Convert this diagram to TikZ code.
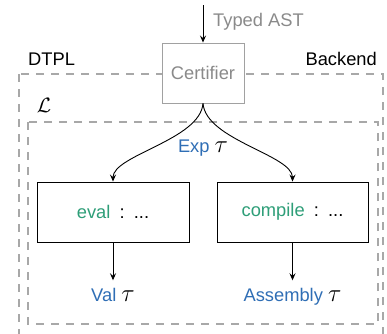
\documentclass[tikz,border=0pt]{standalone}
\usepackage{fontspec}
\setmainfont{Liberation Sans}
\usetikzlibrary{arrows.meta}
\definecolor{myblue}{HTML}{2F6EB5}
\definecolor{mygreen}{HTML}{2E9E78}
\definecolor{mygray}{HTML}{8A8A8A}
\definecolor{dashgray}{HTML}{A8A8A8}
\newcommand{\bigtau}{{\fontsize{24.88}{28}\selectfont$\tau$}}
\tikzset{
  every node/.style={font=\fontsize{18.3}{22}\selectfont},
  arr/.style={-{Stealth[length=7pt,width=6pt,inset=2.5pt]}, line width=0.9pt, black},
  dashbox/.style={draw=dashgray, line width=1.3pt, dash pattern=on 8pt off 7pt},
  fnbox/.style={draw=black, line width=0.9pt, minimum width=152pt, minimum height=60pt, inner sep=0pt},
  certbox/.style={draw=mygray!80, line width=0.9pt, fill=white, text=mygray, minimum width=82pt, minimum height=60pt, inner sep=0pt},
  lbl/.style={inner xsep=0pt, inner ysep=8pt, text height=13pt, text depth=4pt},
}
\begin{document}
\begin{tikzpicture}[x=1pt,y=-1pt]
\useasboundingbox (0,0) rectangle (387,333);
\clip (0,0) rectangle (387,333);
% outer and inner dashed boxes
\draw[dashbox] (19,74) rectangle (383,345);
\draw[dashbox] (28,122) rectangle (378,324);
% labels
\node[anchor=west, inner sep=0pt] (dtpl) at (28,59) {DTPL};
\node[anchor=east, inner sep=0pt] (backend) at (377,59) {Backend};
\node[inner sep=0pt, font=\fontsize{20.74}{24}\selectfont] (lang) at (44,105) {$\mathcal{L}$};
% certifier
\node[certbox] (cert) at (203,73) {Certifier};
\coordinate (top) at (203,5);
\draw[arr] (top) -- (cert.north);
\node[anchor=west, inner sep=0pt, text=mygray] (ast) at (213,22) {Typed AST};
% function boxes
\node[fnbox] (eval) at (113,212) {\textcolor{mygreen}{eval}\hspace{0.5em}:\hspace{0.5em}...};
\node[fnbox, minimum width=151pt] (compile) at (292.5,212) {\textcolor{mygreen}{compile}\hspace{0.5em}:\hspace{0.5em}...};
% curves
\draw[arr] (cert.south) .. controls (200,140) and (113,155) .. (eval.north);
\draw[arr] (cert.south) .. controls (206,140) and (292.5,155) .. (compile.north);
\node[inner sep=0pt] (exp) at (203,148) {\textcolor{myblue}{Exp} \bigtau};
% outputs
\node[lbl] (val) at (113,297) {\textcolor{myblue}{Val} \bigtau};
\node[lbl] (asm) at (292.5,297) {\textcolor{myblue}{Assembly} \bigtau};
\draw[arr] (eval.south) -- (val.north);
\draw[arr] (compile.south) -- (asm.north);
\end{tikzpicture}
\end{document}
